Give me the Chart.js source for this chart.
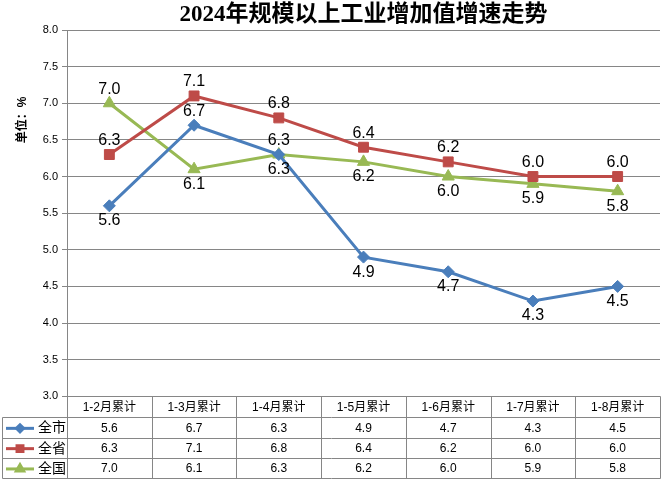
<!DOCTYPE html>
<html><head><meta charset="utf-8">
<script src="https://cdn.jsdelivr.net/npm/chart.js@4"></script>
<style>html,body{margin:0;padding:0;background:#fff;}canvas{display:block}</style>
</head><body>
<canvas id="c" width="669" height="484"></canvas>
<script>
const categories = ['1-2月累计','1-3月累计','1-4月累计','1-5月累计','1-6月累计','1-7月累计','1-8月累计'];
const seriesNames = ['全市','全省','全国'];
const cityValues = [5.6, 6.7, 6.3, 4.9, 4.7, 4.3, 4.5];
const provinceValues = [6.3, 7.1, 6.8, 6.4, 6.2, 6.0, 6.0];
const nationValues = [7.0, 6.1, 6.3, 6.2, 6.0, 5.9, 5.8];
const titleText = '2024年规模以上工业增加值增速走势';
const unitText = '单位：%';

const SANS = '"Liberation Sans","Noto Sans CJK SC",sans-serif';
const GRID = '#868686';

const tablePlugin = {
  id: 'tablePlugin',
  afterDraw(chart) {
    const ctx = chart.ctx, area = chart.chartArea, xs = chart.scales.x;
    const n = categories.length;
    const band = area.width / n;
    const headerH = 20.7, rowH = 20.3;
    const top = Math.round(area.bottom) + 0.5;
    const left = 2.5;
    const right = Math.round(area.right) + 0.5;
    const bottom = top + headerH + rowH * 3;
    ctx.save();
    ctx.strokeStyle = GRID; ctx.lineWidth = 1;
    ctx.beginPath();
    ctx.moveTo(area.left, top); ctx.lineTo(right, top);
    for (let r = 0; r <= 3; r++) {
      const y = Math.round(top + headerH + r * rowH) + 0.5;
      ctx.moveTo(left, y); ctx.lineTo(right, y);
    }
    ctx.moveTo(left, Math.round(top + headerH) + 0.5); ctx.lineTo(left, Math.round(bottom) + 0.5);
    for (let i = 0; i <= n; i++) {
      const x = Math.round(area.left + i * band) + 0.5;
      ctx.moveTo(x, top); ctx.lineTo(x, Math.round(bottom) + 0.5);
    }
    ctx.stroke();
    // rows
    ctx.textAlign = 'center'; ctx.textBaseline = 'middle';
    chart.data.datasets.forEach((ds, r) => {
      const yc = top + headerH + rowH * r + rowH / 2 + 1;
      ctx.font = '12px ' + SANS; ctx.fillStyle = '#000';
      ds.data.forEach((v, i) => {
        ctx.fillText(v.toFixed(1), xs.getPixelForValue(i), yc);
      });
      // legend swatch
      ctx.strokeStyle = ds.borderColor; ctx.lineWidth = 3;
      ctx.beginPath(); ctx.moveTo(6, yc); ctx.lineTo(34, yc); ctx.stroke();
      ctx.fillStyle = ds.backgroundColor;
      Chart.helpers.drawPoint(ctx, {pointStyle: ds.pointStyle, radius: ds.pointRadius * 0.6, borderWidth: 1}, 20, yc);
      ctx.fillStyle = '#000'; ctx.textAlign = 'left';
      ctx.font = '14px ' + SANS;
      ctx.fillText(seriesNames[r], 38, yc);
      ctx.textAlign = 'center';
    });
    // unit label
    ctx.save();
    ctx.translate(23, area.top + 90);
    ctx.rotate(-Math.PI / 2);
    ctx.font = 'bold 12px ' + SANS; ctx.fillStyle = '#000';
    ctx.fillText(unitText, 0, 0);
    ctx.restore();
    // data labels
    ctx.font = '16px ' + SANS; ctx.fillStyle = '#000';
    chart.data.datasets.forEach((ds, di) => {
      const meta = chart.getDatasetMeta(di);
      meta.data.forEach((el, i) => {
        const pos = ds.labelPos[i];
        const dy = pos === 'below' ? 15 : -14;
        ctx.fillText(ds.data[i].toFixed(1), el.x, el.y + dy);
      });
    });
    ctx.restore();
  }
};

new Chart(document.getElementById('c'), {
  type: 'line',
  data: {
    labels: categories,
    datasets: [
      { label: seriesNames[0], data: cityValues, borderColor: '#4A7EBB', backgroundColor: '#4A7EBB',
        borderWidth: 3, pointStyle: 'rectRot', pointRadius: 6, pointBorderWidth: 1,
        labelPos: ['below','above','below','below','below','below','below'] },
      { label: seriesNames[1], data: provinceValues, borderColor: '#BE4B48', backgroundColor: '#BE4B48',
        borderWidth: 3, pointStyle: 'rect', pointRadius: 7, pointBorderWidth: 1,
        labelPos: ['above','above','above','above','above','above','above'] },
      { label: seriesNames[2], data: nationValues, borderColor: '#98B954', backgroundColor: '#98B954',
        borderWidth: 3, pointStyle: 'triangle', pointRadius: 7, pointBorderWidth: 1,
        labelPos: ['above','below','above','below','below','below','below'] }
    ]
  },
  options: {
    responsive: false, animation: false, devicePixelRatio: 1,
    layout: { padding: { left: 2, right: 9, top: 0, bottom: 67 } },
    plugins: {
      legend: { display: false },
      tooltip: { enabled: false },
      title: { display: true, text: titleText, fullSize: false, color: '#000',
        font: { family: '"Liberation Serif","Noto Sans CJK SC",serif', size: 23, weight: 'bold', lineHeight: 1.0 },
        padding: { top: 4, bottom: 3 } }
    },
    scales: {
      x: {
        offset: true,
        grid: { display: false, drawTicks: false },
        border: { display: false },
        ticks: { color: '#000', font: { family: SANS, size: 12 }, padding: 4, maxRotation: 0, autoSkip: false },
        afterFit(s) { s.height = 20.7; }
      },
      y: {
        min: 3, max: 8,
        ticks: { stepSize: 0.5, color: '#000', font: { family: SANS, size: 11 }, padding: 4,
          callback: v => v.toFixed(1) },
        grid: { color: GRID, lineWidth: 1, tickLength: 5, tickColor: GRID },
        border: { color: GRID, width: 1 },
        afterFit(s) { s.width = 65; }
      }
    }
  },
  plugins: [tablePlugin]
});
</script>
</body></html>
